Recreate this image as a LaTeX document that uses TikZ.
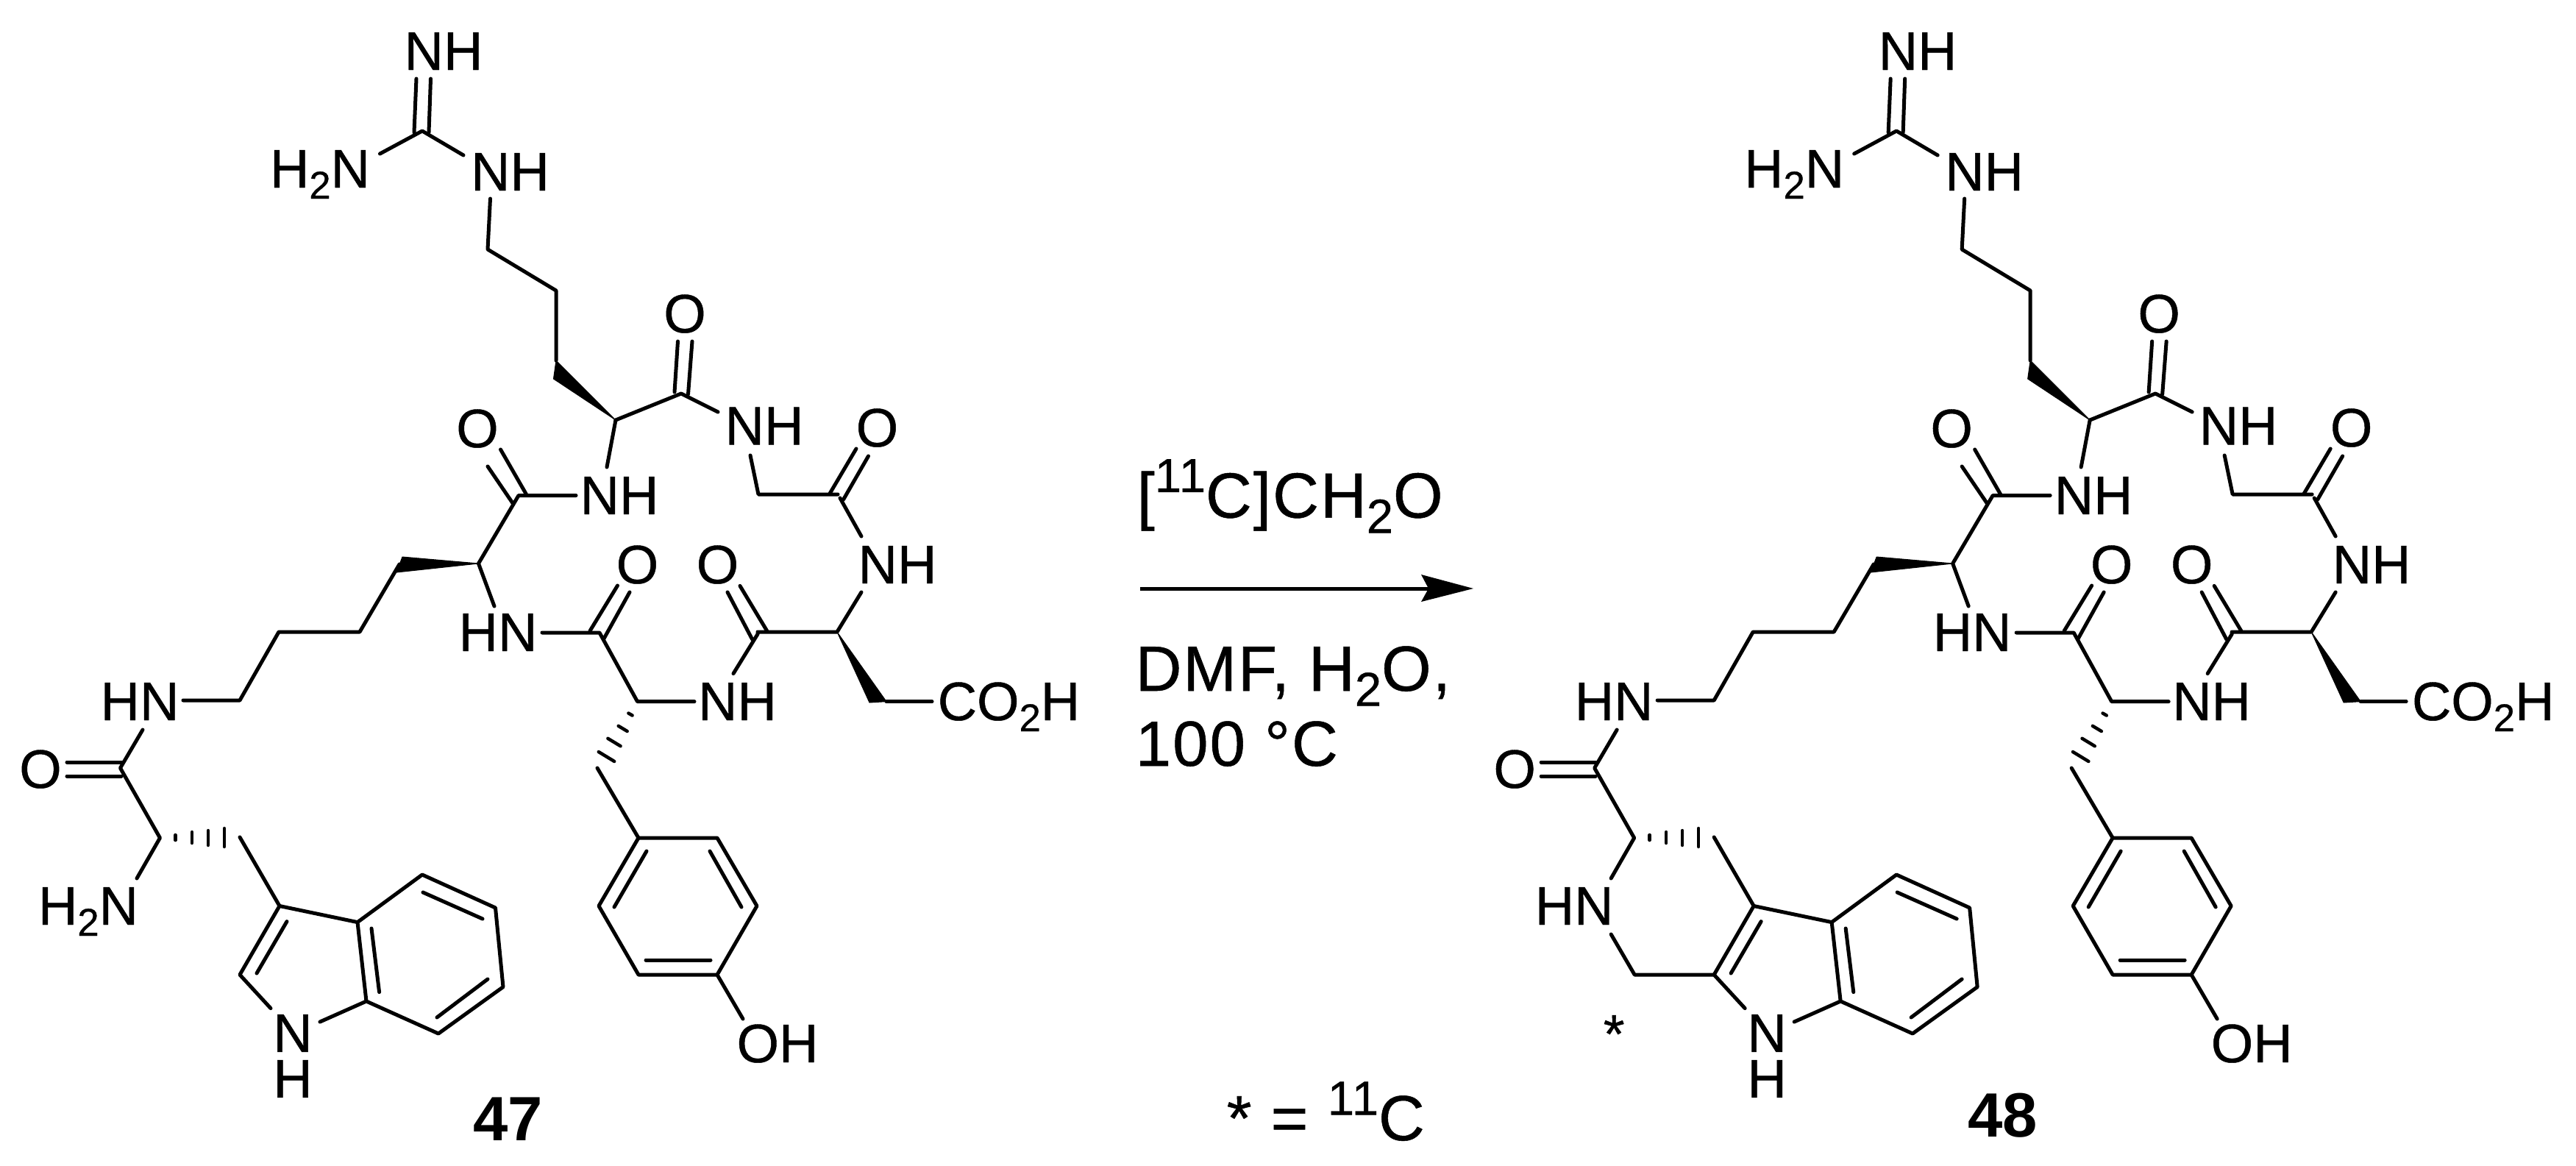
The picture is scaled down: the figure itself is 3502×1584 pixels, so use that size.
\documentclass[tikz,border=0pt]{standalone}
\usepackage{fontspec}
\setmainfont{Liberation Sans}
\tikzset{
  x=0.01cm,y=-0.01cm,
  bond/.style={line width=0.05cm,line cap=round,line join=round},
  hashbar/.style={line width=0.045cm,line cap=round},
  wedge/.style={fill=black,draw=black,line width=0.01cm,line join=round},
  atomlabel/.style={anchor=base,inner sep=0pt,font=\fontsize{21}{21}\selectfont\addfontfeature{FakeBold=0.6}},
  stacklabel/.style={anchor=center,align=center,inner sep=0pt,font=\fontsize{21}{17.64}\selectfont\addfontfeature{FakeBold=0.6}},
  compound/.style={anchor=base,inner sep=0pt,font=\fontsize{24.2}{24.2}\selectfont\bfseries},
  reagent/.style={anchor=base west,inner sep=0pt,font=\fontsize{24.7}{24.7}\selectfont\addfontfeature{LetterSpace=2.5,FakeBold=0.6}},
}
\newcommand\subtwo{\raisebox{-0.15cm}{\fontsize{15}{15}\selectfont 2}}
\newcommand\rsub{\raisebox{-0.207cm}{\fontsize{18.5}{18.5}\selectfont 2}}
\newcommand\relev[1]{\raisebox{0.346cm}{\fontsize{18.5}{18.5}\selectfont #1}}
\newcommand\peptide{%
  % atom positions
  \coordinate (gC) at (574,178);
  \coordinate (gNa1) at (566,107); \coordinate (gNa2) at (563,180);
  \coordinate (gNb1) at (585.5,107); \coordinate (gNb2) at (583,180);
  \coordinate (gH2) at (516.5,209);
  \coordinate (gN) at (630,211);
  \coordinate (r1) at (666.5,270);
  \coordinate (r2) at (663,339);
  \coordinate (r3) at (756,395);
  \coordinate (r4) at (756,490);
  \coordinate (r4b) at (752.5,515);
  \coordinate (rCa) at (837,571);
  \coordinate (rCO) at (926,535);
  \coordinate (rOa1) at (921.5,464); \coordinate (rOa2) at (917,533);
  \coordinate (rOb1) at (941,464); \coordinate (rOb2) at (935.5,536);
  \coordinate (rN) at (976,560);
  \coordinate (rNb) at (825,635);
  \coordinate (kCOn) at (783,673.5);
  \coordinate (kCO) at (705,673.5);
  \coordinate (kOa1) at (663,634); \coordinate (kOa2) at (697,684);
  \coordinate (kOb1) at (680.5,611); \coordinate (kOb2) at (715.5,672);
  \coordinate (kCa) at (650.5,766);
  \coordinate (kW1) at (547,757); \coordinate (kW2) at (539,778);
  \coordinate (kNe) at (672,824);
  \coordinate (kWm) at (543,767);
  \coordinate (k1) at (489,859);
  \coordinate (k2) at (379,859);
  \coordinate (k3) at (326,952);
  \coordinate (k4) at (249,952);
  \coordinate (wN) at (194,992);
  \coordinate (wCO) at (163.5,1044);
  \coordinate (wOa1) at (91,1036); \coordinate (wOa2) at (165,1036);
  \coordinate (wOb1) at (91,1055); \coordinate (wOb2) at (165,1055);
  \coordinate (wCa) at (217.5,1139);
  \coordinate (wNt) at (186,1194);
  \coordinate (wCH) at (326,1138);
  \coordinate (C3) at (380,1231.5);
  \coordinate (C3a) at (486,1253.6);
  \coordinate (C4) at (574,1189);
  \coordinate (C5) at (673.5,1234);
  \coordinate (C6) at (684,1341.6);
  \coordinate (C7) at (596,1405);
  \coordinate (C7a) at (498,1361);
  \coordinate (C2) at (326,1325);
  \coordinate (N1a) at (368,1370.6);
  \coordinate (N1b) at (435,1389);
  \coordinate (gNn) at (1020,619);
  \coordinate (gCH) at (1031,672);
  \coordinate (gCO) at (1142,677);
  \coordinate (gCOb) at (1139,672);
  \coordinate (gOa1) at (1164,610); \coordinate (gOa2) at (1128,671);
  \coordinate (gOb1) at (1180.5,620); \coordinate (gOb2) at (1146.6,679);
  \coordinate (gNd) at (1171,729);
  \coordinate (dNb) at (1171,805);
  \coordinate (dCa) at (1138,859);
  \coordinate (dCO) at (1030,859);
  \coordinate (dCOb) at (1030,862);
  \coordinate (dOa1) at (1006,796.4); \coordinate (dOa2) at (1042.7,857.6);
  \coordinate (dOb1) at (989,805); \coordinate (dOb2) at (1022.6,869);
  \coordinate (dNy) at (997,915.6);
  \coordinate (dW1) at (1182,955); \coordinate (dW2) at (1205,953.6);
  \coordinate (dAc) at (1267,953.6);
  \coordinate (yCa) at (866.5,953.6);
  \coordinate (yN) at (944,953.6);
  \coordinate (yCO) at (815,860);
  \coordinate (yCOn) at (737,860);
  \coordinate (yOa1) at (839.5,796); \coordinate (yOa2) at (802,857.6);
  \coordinate (yOb1) at (856,805); \coordinate (yOb2) at (820.5,869);
  \coordinate (yCH) at (812,1044);
  \coordinate (Y1) at (868,1139);
  \coordinate (Y2) at (975,1139);
  \coordinate (Y3) at (1029,1231.5);
  \coordinate (Y4) at (975,1325);
  \coordinate (Y5) at (868,1325);
  \coordinate (Y6) at (814,1231.5);
  \coordinate (YO) at (1010,1385);
  % shared labels
  \node[atomlabel] (lNHtop) at (603,95) {NH};
  \node[atomlabel] (lH2N) at (435,255) {H\subtwo N};
  \node[atomlabel] (lNHg) at (693.5,259) {NH};
  \node[atomlabel] (lO1) at (931,452) {O};
  \node[atomlabel] (lNHr) at (842,699) {NH};
  \node[atomlabel] (lO2) at (649,608) {O};
  \node[atomlabel] (lNHgly) at (1039,604.5) {NH};
  \node[atomlabel] (lO3) at (1192.5,607) {O};
  \node[atomlabel] (lNHd) at (1220,793) {NH};
  \node[atomlabel] (lO4) at (975.5,793) {O};
  \node[atomlabel] (lO5) at (866.5,793) {O};
  \node[atomlabel] (lNHy) at (1002.5,979) {NH};
  \node[atomlabel] (lCOOH) at (1371.5,979) {CO\subtwo H};
  \node[atomlabel] (lHNk) at (677,885) {HN};
  \node[atomlabel] (lHNw) at (190,979) {HN};
  \node[atomlabel] (lO6) at (55,1071) {O};
  \node[stacklabel] (lN1) at (398,1435.5) {N\\H};
  \node[atomlabel] (lOH) at (1057,1444) {OH};
  % shared bonds
  \draw[bond] (gNa1) -- (gNa2);
  \draw[bond] (gNb1) -- (gNb2);
  \draw[bond] (gH2) -- (gC) -- (gN);
  \draw[bond] (r1) -- (r2) -- (r3) -- (r4);
  \fill[wedge] (r4) -- (rCa) -- (r4b) -- cycle;
  \draw[bond] (rCa) -- (rCO) -- (rN);
  \draw[bond] (rOa1) -- (rOa2);
  \draw[bond] (rOb1) -- (rOb2);
  \draw[bond] (rCa) -- (rNb);
  \draw[bond] (kCOn) -- (kCO) -- (kCa) -- (kNe);
  \draw[bond] (kOa1) -- (kOa2);
  \draw[bond] (kOb1) -- (kOb2);
  \fill[wedge] (kCa) -- (kW1) -- (kW2) -- cycle;
  \draw[bond] (kWm) -- (k1) -- (k2) -- (k3) -- (k4);
  \draw[bond] (wN) -- (wCO) -- (wCa) -- (wNt);
  \draw[bond] (wOa1) -- (wOa2);
  \draw[bond] (wOb1) -- (wOb2);
  \draw[hashbar] (238.5,1135) -- (238.5,1142);
  \draw[hashbar] (261,1131) -- (261,1146);
  \draw[hashbar] (283,1129) -- (283,1149);
  \draw[hashbar] (305,1126) -- (305,1151);
  \draw[bond] (wCH) -- (C3);
  \draw[bond] (C3) -- (C3a) -- (C4) -- (C5) -- (C6) -- (C7) -- (C7a) -- (C3a);
  \draw[bond] (C3) -- (C2) -- (N1a);
  \draw[bond] (N1b) -- (C7a);
  \draw[bond] (349,1323) -- (390,1252.6);
  \draw[bond] (505,1262) -- (515.6,1348.6);
  \draw[bond] (575,1213) -- (656,1249);
  \draw[bond] (663,1331) -- (594,1383);
  \draw[bond] (gNn) -- (gCH) -- (gCOb);
  \draw[bond] (gOa1) -- (gOa2);
  \draw[bond] (gOb1) -- (gOb2);
  \draw[bond] (gCO) -- (gNd);
  \draw[bond] (dNb) -- (dCa) -- (dCO) -- (dCOb) -- (dNy);
  \draw[bond] (dOa1) -- (dOa2);
  \draw[bond] (dOb1) -- (dOb2);
  \fill[wedge] (dCa) -- (dW1) -- (dW2) -- cycle;
  \draw[bond] (dW2) -- (dAc);
  \draw[bond] (yN) -- (yCa) -- (yCO) -- (yCOn);
  \draw[bond] (yOa1) -- (yOa2);
  \draw[bond] (yOb1) -- (yOb2);
  \draw[hashbar] (854.4,969.5) -- (859.6,972.5);
  \draw[hashbar] (840.7,986.8) -- (852.7,994);
  \draw[hashbar] (826.4,1003.8) -- (843.6,1014.2);
  \draw[hashbar] (813.8,1022) -- (835.2,1035);
  \draw[bond] (yCH) -- (Y1);
  \draw[bond] (Y1) -- (Y2) -- (Y3) -- (Y4) -- (Y5) -- (Y6) -- cycle;
  \draw[bond] (879,1157) -- (835,1233);
  \draw[bond] (965,1157) -- (1008,1233);
  \draw[bond] (878,1305) -- (966,1305);
  \draw[bond] (Y4) -- (YO);
}
\begin{document}
\begin{tikzpicture}
  \useasboundingbox (0,0) rectangle (3502,1584);
  \fill[white] (0,0) rectangle (3502,1584);
  % compound 47
  \begin{scope}[name prefix=L-]
    \peptide
    \node[atomlabel] (lNH2) at (120,1257) {H\subtwo N};
  \end{scope}
  \node[compound] (c47) at (691,1550) {47};
  % compound 48
  \begin{scope}[name prefix=R-,xshift=20.03cm]
    \peptide
    \node[atomlabel] (lHNp) at (136,1257) {HN};
    \coordinate (pN) at (186,1270);
    \coordinate (pC) at (218,1325);
    \draw[bond] (pN) -- (pC) -- (C2);
    \node[atomlabel] (lstar) at (190,1431) {*};
  \end{scope}
  \node[compound] (c48) at (2722.5,1545) {48};
  % reaction arrow and conditions
  \coordinate (arS) at (1550,800);
  \coordinate (arE) at (1942,800);
  \coordinate (arT) at (2003,800);
  \coordinate (arU) at (1932,781);
  \coordinate (arD) at (1932,818);
  \draw[line width=0.05cm] (arS) -- (arE);
  \fill[black] (arT) -- (arU) -- (arE) -- (arD) -- cycle;
  \node[reagent] (rgA) at (1545,703.6) {[\relev{11}C]CH\rsub O};
  \node[reagent] (rgB) at (1543,939) {DMF, H\rsub O,};
  \node[reagent] (rgC) at (1543,1041) {100 °C};
  \node[reagent] (rgD) at (1667,1550) {* = \relev{11}C};
\end{tikzpicture}
\end{document}
